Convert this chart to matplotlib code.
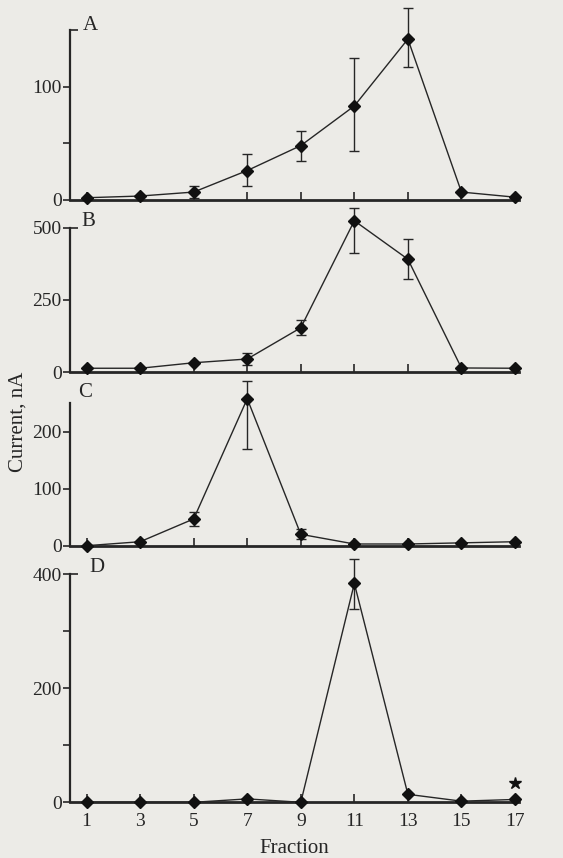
import numpy as np
import matplotlib
matplotlib.use("Agg")
import matplotlib.pyplot as plt

plt.rcParams['font.family'] = ['Liberation Serif', 'DejaVu Serif']

fractions = [1, 3, 5, 7, 9, 11, 13, 15, 17]

a_vals = [2, 3.5, 7, 26, 48, 83, 142, 7, 2.5]
a_err_lo = [0, 0, 5, 14, 14, 40, 25, 0, 0]
a_err_hi = [0, 0, 5, 15, 13, 42, 27, 0, 0]

b_vals = [14, 14, 33, 46, 154, 524, 391, 15, 14]
b_err_lo = [0, 0, 0, 20, 25, 110, 68, 0, 0]
b_err_hi = [0, 0, 0, 20, 27, 44, 69, 0, 0]

c_vals = [0, 7, 47, 258, 20, 3, 3, 5, 7]
c_err_lo = [0, 0, 13, 88, 8, 0, 0, 0, 0]
c_err_hi = [0, 0, 12, 31, 9, 0, 0, 0, 0]

d_vals = [0, 0, 0, 6, 0, 384, 14, 2, 5]
d_err_lo = [0, 0, 0, 0, 0, 44, 0, 0, 0]
d_err_hi = [0, 0, 0, 0, 0, 43, 0, 0, 0]

star_x = 17
star_y = 33

panels = [
    dict(label="A", vals=a_vals, lo=a_err_lo, hi=a_err_hi, ymax=150,
         major=[0, 100], minor=[50], top_tick=True),
    dict(label="B", vals=b_vals, lo=b_err_lo, hi=b_err_hi, ymax=500,
         major=[0, 250, 500], minor=[], top_tick=True),
    dict(label="C", vals=c_vals, lo=c_err_lo, hi=c_err_hi, ymax=250,
         major=[0, 100, 200], minor=[], top_tick=False),
    dict(label="D", vals=d_vals, lo=d_err_lo, hi=d_err_hi, ymax=400,
         major=[0, 200, 400], minor=[100, 300], top_tick=True),
]

W, H = 563, 858
bg = '#ecebe7'
ink = '#262626'
fig = plt.figure(figsize=(W / 100, H / 100), dpi=100, facecolor=bg)

# pixel boxes: (top_y, bottom_y)
boxes = [(30, 200), (227.7, 372.3), (403.3, 545.7), (574.3, 802.3)]
left_px, right_px = 70, 519
label_pos = [(90, 25), (88, 222), (85, 392), (97, 568)]

x = np.array(fractions)
for i, (p, (ty, by)) in enumerate(zip(panels, boxes)):
    ax = fig.add_axes([left_px / W, 1 - by / H, (right_px - left_px) / W, (by - ty) / H])
    ax.set_facecolor('none')
    vals = np.array(p['vals'], dtype=float)
    lo = np.array(p['lo'], dtype=float)
    hi = np.array(p['hi'], dtype=float)
    ax.plot(x, vals, color=ink, lw=1.0, clip_on=False, zorder=3)
    m = (lo > 0) | (hi > 0)
    ax.errorbar(x[m], vals[m], yerr=[lo[m], hi[m]], fmt='none', ecolor=ink,
                elinewidth=1.0, capsize=3.5, capthick=1.0, clip_on=False, zorder=3)
    ax.plot(x, vals, 'D', color='#111111', ms=5.8, clip_on=False, zorder=4)
    ax.set_xlim(0.38, 17.15)
    ax.set_ylim(0, p['ymax'])
    for s in ['top', 'right']:
        ax.spines[s].set_visible(False)
    ax.spines['left'].set_linewidth(1.6)
    ax.spines['bottom'].set_linewidth(2.0)
    ax.spines['left'].set_color(ink)
    ax.spines['bottom'].set_color(ink)
    ax.set_yticks(p['major'])
    ax.set_yticks(p['minor'], minor=True)
    ax.tick_params(axis='y', which='both', direction='out', length=5, width=1.2,
                   colors=ink, labelsize=14, pad=1)
    ax.set_xticks(fractions)
    ax.tick_params(axis='x', direction='in', length=6, width=1.2, colors=ink,
                   labelsize=14, pad=8)
    if p['top_tick']:
        sec = ax.secondary_yaxis('left')
        sec.set_yticks([p['ymax']])
        sec.tick_params(direction='in', length=6, width=1.2, colors=ink, labelleft=False)
        sec.spines['left'].set_visible(False)
    if i < 3:
        ax.tick_params(axis='x', labelbottom=False)
    else:
        ax.set_xlabel('Fraction', fontsize=15, color=ink, labelpad=6)
        ax.plot([star_x], [star_y], marker='*', color='#111111', ms=9,
                ls='none', clip_on=False, zorder=4)
    lx, ly = label_pos[i]
    fig.text(lx / W, 1 - ly / H, p['label'], fontsize=15, color=ink,
             ha='center', va='center')

fig.text(18 / W, 1 - 422 / H, 'Current, nA', rotation=90, fontsize=15,
         color=ink, ha='center', va='center')

fig.savefig('out.png', dpi=100, facecolor=bg)
